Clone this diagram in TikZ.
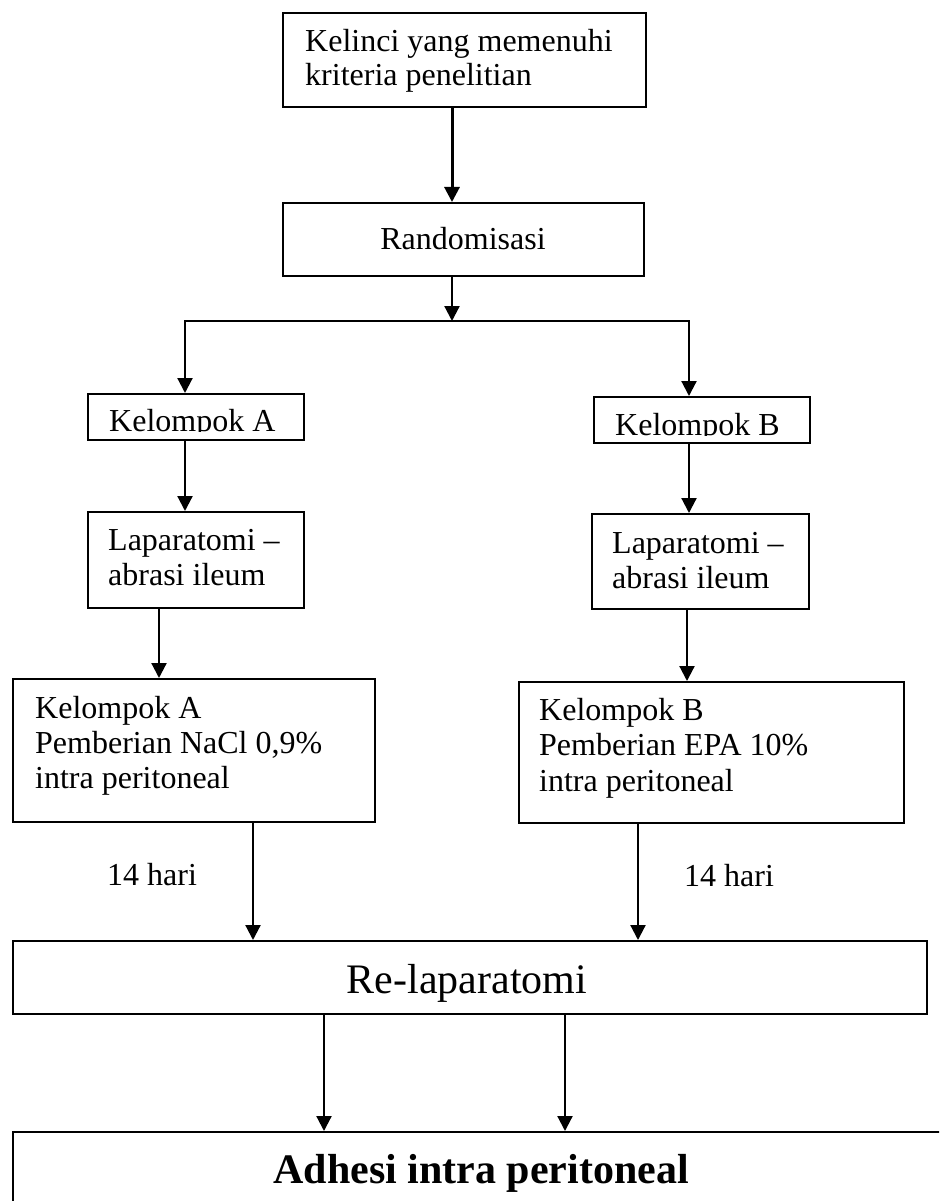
\documentclass[tikz,border=0pt]{standalone}
\usepackage{fontspec}
\setmainfont{Liberation Serif}
\usetikzlibrary{arrows.meta}

\begin{document}
\begin{tikzpicture}[x=1pt, y=-1pt,
  box/.style={draw, line width=2.2pt, rectangle, inner sep=0pt, anchor=north west},
  link/.style={line width=2.2pt},
  arr/.style={link, -{Triangle[length=15pt,width=15pt]}},
  txt/.style={inner sep=0pt, anchor=base west, font=\fontsize{32}{35}\selectfont},
  bigtxt/.style={inner sep=0pt, anchor=base, font=\fontsize{42}{46}\selectfont},
]
\useasboundingbox (0,0) rectangle (939,1201);
\clip (0,0) rectangle (939,1201);

% vertical connector columns
\coordinate (colTop) at (452,0);
\coordinate (colA)   at (185,0);
\coordinate (colB)   at (689,0);
\coordinate (colLA)  at (159,0);
\coordinate (colLB)  at (687,0);
\coordinate (colA2)  at (253,0);
\coordinate (colB2)  at (638,0);
\coordinate (colR1)  at (324,0);
\coordinate (colR2)  at (565,0);
\coordinate (split)  at (452,321);

% boxes
\node[box, minimum width=363pt, minimum height=94pt]  (top)   at (282,12)  {};
\node[box, minimum width=361pt, minimum height=73pt]  (rand)  at (282,202) {};
\node[box, minimum width=216pt, minimum height=46pt]  (ka)    at (87,393)  {};
\node[box, minimum width=216pt, minimum height=46pt]  (kb)    at (593,396) {};
\node[box, minimum width=216pt, minimum height=96pt]  (la)    at (87,511)  {};
\node[box, minimum width=217pt, minimum height=95pt]  (lb)    at (591,513) {};
\node[box, minimum width=362pt, minimum height=143pt] (a2)    at (12,678)  {};
\node[box, minimum width=385pt, minimum height=141pt] (b2)    at (518,681) {};
\node[box, minimum width=914pt, minimum height=73pt]  (relap) at (12,940)  {};
\node[box, minimum width=945pt, minimum height=100pt] (adh)   at (12,1131) {};

% texts
\node[txt] (top1) at (305,52) {Kelinci yang memenuhi};
\node[txt] (top2) at (305,86) {kriteria penelitian};
\node[txt, anchor=base] (randtext) at (463,249) {Randomisasi};

\begin{scope}
  \clip (ka.north west) rectangle ([yshift=10pt]ka.south east);
  \node[txt] (katext) at (109,431) {Kelompok A};
\end{scope}
\begin{scope}
  \clip (kb.north west) rectangle ([yshift=9pt]kb.south east);
  \node[txt] (kbtext) at (615,435) {Kelompok B};
\end{scope}

\node[txt] (la1) at (108,550) {Laparatomi --};
\node[txt] (la2) at (108,585) {abrasi ileum};
\node[txt] (lb1) at (612,553) {Laparatomi --};
\node[txt] (lb2) at (612,588) {abrasi ileum};

\node[txt] (a21) at (35,718) {Kelompok A};
\node[txt] (a22) at (35,753) {Pemberian NaCl 0,9\%};
\node[txt] (a23) at (35,788) {intra peritoneal};
\node[txt] (b21) at (539,720) {Kelompok B};
\node[txt] (b22) at (539,755) {Pemberian EPA 10\%};
\node[txt] (b23) at (539,791) {intra peritoneal};

\node[txt] (daysA) at (107,885) {14 hari};
\node[txt] (daysB) at (684,886) {14 hari};

\node[bigtxt] (relaptext) at (467,993) {Re-laparatomi};
\node[bigtxt, font=\fontsize{42}{46}\selectfont\bfseries] (adhtext) at (481,1183) {Adhesi intra peritoneal};

% connectors
\draw[arr, line width=3pt] (top.south -| colTop) -- (rand.north -| colTop);
\draw[arr] (rand.south -| colTop) -- (split);
\draw[arr] (split) -| (ka.north -| colA);
\draw[arr] (split) -| (kb.north -| colB);
\draw[arr] (ka.south -| colA) -- (la.north -| colA);
\draw[arr] (kb.south -| colB) -- (lb.north -| colB);
\draw[arr] (la.south -| colLA) -- (a2.north -| colLA);
\draw[arr] (lb.south -| colLB) -- (b2.north -| colLB);
\draw[arr] (a2.south -| colA2) -- (relap.north -| colA2);
\draw[arr] (b2.south -| colB2) -- (relap.north -| colB2);
\draw[arr] (relap.south -| colR1) -- (adh.north -| colR1);
\draw[arr] (relap.south -| colR2) -- (adh.north -| colR2);
\end{tikzpicture}
\end{document}
